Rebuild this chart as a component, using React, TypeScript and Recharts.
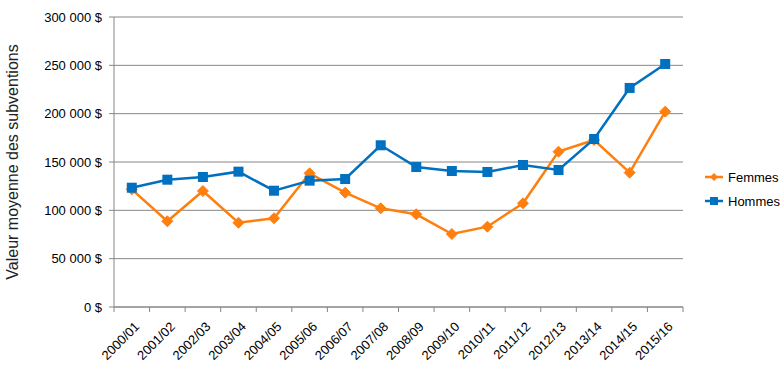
import React from "react";
import { LineChart, Line, XAxis, YAxis, CartesianGrid, Label } from "recharts";

const categories = [
  "2000/01", "2001/02", "2002/03", "2003/04", "2004/05", "2005/06", "2006/07", "2007/08",
  "2008/09", "2009/10", "2010/11", "2011/12", "2012/13", "2013/14", "2014/15", "2015/16",
];
const femmes = [
  121700, 88700, 120000, 87200, 91800, 138300, 118300, 102100,
  95900, 75500, 83100, 107300, 160700, 172800, 139000, 202100,
];
const hommes = [
  123400, 131700, 134500, 140000, 120300, 130700, 132400, 167300,
  144800, 140700, 139700, 146900, 141700, 173800, 226600, 251400,
];
const yTicks = [0, 50000, 100000, 150000, 200000, 250000, 300000];

const data = categories.map((c, i) => ({ cat: c, Femmes: femmes[i], Hommes: hommes[i] }));

const ORANGE = "#FF7F0E";
const BLUE = "#0070C0";
const GRID = "#868686";
const FONT = "'Liberation Sans', Arial, sans-serif";

const fmt = (v: number) => {
  const s = Math.round(v).toString().replace(/\B(?=(\d{3})+(?!\d))/g, " ");
  return s + " $";
};

const CHART_W = 783;
const CHART_H = 384;
const M = { top: 17, right: 100, bottom: 17, left: 0 };
const Y_W = 114;
const X_H = 60;

const plotW = CHART_W - M.left - M.right - Y_W;
const band = plotW / categories.length;

const XTick = (props: any) => {
  const { x, y, payload, index } = props;
  const half = band / 2;
  const axisY = y - 11;
  const tx = x + 6;
  const ty = y + 7;
  return (
    <g>
      <line x1={x - half} y1={axisY} x2={x - half} y2={axisY + 5} stroke={GRID} strokeWidth={1} />
      {index === categories.length - 1 && (
        <line x1={x + half} y1={axisY} x2={x + half} y2={axisY + 5} stroke={GRID} strokeWidth={1} />
      )}
      <text
        x={tx}
        y={ty}
        textAnchor="end"
        dominantBaseline="middle"
        transform={`rotate(-45, ${tx}, ${ty})`}
        fontSize={13}
        fontFamily={FONT}
        fill="#000"
      >
        {payload.value}
      </text>
    </g>
  );
};

const DiamondDot = (props: any) => {
  const { cx, cy } = props;
  if (cx == null || cy == null) return null;
  const r = 5.5;
  return (
    <path d={`M${cx},${cy - r}L${cx + r},${cy}L${cx},${cy + r}L${cx - r},${cy}Z`} fill={ORANGE} stroke={ORANGE} strokeWidth={1} />
  );
};

const SquareDot = (props: any) => {
  const { cx, cy } = props;
  if (cx == null || cy == null) return null;
  const s = 10;
  return <rect x={cx - s / 2} y={cy - s / 2} width={s} height={s} fill={BLUE} />;
};

const legendItems = [
  { name: "Femmes", color: ORANGE, type: "d" },
  { name: "Hommes", color: BLUE, type: "s" },
];

export default function App() {
  return (
    <div style={{ position: "absolute", left: 0, top: 0, width: CHART_W, height: CHART_H, background: "#fff" }}>
      <LineChart width={CHART_W} height={CHART_H} data={data} margin={M}>
        <CartesianGrid vertical={false} stroke={GRID} strokeWidth={1} />
        <XAxis
          dataKey="cat"
          scale="band"
          height={X_H}
          interval={0}
          tickLine={false}
          axisLine={{ stroke: GRID }}
          tick={<XTick />}
          tickSize={5}
          tickMargin={6}
        />
        <YAxis
          width={Y_W}
          domain={[0, 300000]}
          ticks={yTicks}
          tickFormatter={fmt}
          axisLine={{ stroke: GRID }}
          tickLine={{ stroke: GRID }}
          tickSize={5}
          tickMargin={7}
          tick={{ fontSize: 13, fontFamily: FONT, fill: "#000" }}
        >
          <Label
            value="Valeur moyenne des subventions"
            angle={-90}
            position="insideLeft"
            offset={12}
            style={{ textAnchor: "middle", fontSize: 16, fontFamily: FONT, fill: "#222" }}
          />
        </YAxis>
        <Line
          type="linear"
          dataKey="Femmes"
          stroke={ORANGE}
          strokeWidth={2.5}
          dot={<DiamondDot />}
          activeDot={false}
          isAnimationActive={false}
        />
        <Line
          type="linear"
          dataKey="Hommes"
          stroke={BLUE}
          strokeWidth={2.5}
          dot={<SquareDot />}
          activeDot={false}
          isAnimationActive={false}
        />
      </LineChart>
      <div style={{ position: "absolute", left: 704, top: 165, fontFamily: FONT, fontSize: 13, color: "#000" }}>
        {legendItems.map((it) => (
          <div key={it.name} style={{ display: "flex", alignItems: "center", height: 24 }}>
            <svg width={20} height={12} style={{ marginRight: 4 }}>
              <line x1={1} y1={6} x2={19} y2={6} stroke={it.color} strokeWidth={2.5} />
              {it.type === "d" ? (
                <path d="M10,2L14,6L10,10L6,6Z" fill={it.color} />
              ) : (
                <rect x={6} y={2} width={8} height={8} fill={it.color} />
              )}
            </svg>
            <span>{it.name}</span>
          </div>
        ))}
      </div>
    </div>
  );
}
